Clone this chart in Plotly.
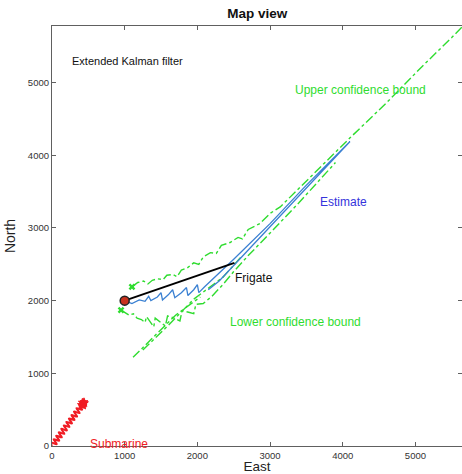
import plotly.graph_objects as go

# ---- data (East, North in metres) ----
sub_east = [0, -8, 65, 22, 100, 57, 135, 92, 170, 127, 205, 162, 240, 197, 275,
            232, 310, 267, 345, 302, 380, 337, 415, 372, 420]
sub_north = [0, 44, 26, 93, 73, 141, 120, 188, 168, 236, 215, 283, 263, 331, 310,
             378, 358, 426, 405, 473, 453, 521, 500, 568, 570]
sub_end_east = [405, 432, 418, 446, 428, 440]
sub_end_north = [565, 578, 598, 590, 556, 605]

frigate_east = [1000, 2510]
frigate_north = [2000, 2520]

est_east = [1000, 1100, 1200, 1280, 1330, 1360, 1450, 1500, 1520, 1600, 1660, 1690,
            1780, 1850, 1870, 1950, 2000, 2020, 2100, 2500, 3000, 3500, 4100,
            3700, 3200, 2700, 2300, 2150]
est_north = [2000, 1960, 2010, 1990, 2060, 2000, 2050, 2110, 2010, 2080, 2150, 2040,
             2110, 2180, 2070, 2150, 2220, 2110, 2190, 2570, 3060, 3590, 4190,
             3760, 3230, 2700, 2270, 2150]

upper_east = [1100, 1180, 1260, 1320, 1380, 1450, 1530, 1580, 1660, 1720, 1780, 1860,
              1950, 2020, 2080, 2180, 2260, 2330, 2450, 2560, 2620, 2700, 2860, 3000,
              3140, 3600, 4100, 4600, 5100, 5500, 5800]
upper_north = [2190, 2250, 2270, 2230, 2280, 2300, 2290, 2350, 2360, 2330, 2420, 2450,
               2520, 2500, 2600, 2660, 2650, 2760, 2800, 2870, 2850, 2980, 3060, 3200,
               3290, 3750, 4240, 4720, 5230, 5620, 5930]

lower_east = [950, 1000, 1060, 1120, 1170, 1230, 1280, 1300, 1360, 1400, 1420, 1500,
              1560, 1590, 1680, 1760, 1790, 1880, 1950, 1980, 2080, 2200, 2350, 2500,
              2700, 3000, 3400, 3900, None,
              1115, 1400, 1700, 2040, None,
              1250, 1600, 1950, 2350, 2600]
lower_north = [1870, 1840, 1800, 1820, 1760, 1740, 1700, 1780, 1690, 1640, 1760, 1700,
               1650, 1790, 1760, 1720, 1860, 1840, 1820, 1950, 1960, 2060, 2220, 2400,
               2620, 2930, 3350, 3900, None,
               1220, 1500, 1800, 2050, None,
               1320, 1660, 2020, 2320, 2600]

bound_start_east = [1100, 950]
bound_start_north = [2190, 1870]

FONT = "Liberation Sans, Arial, sans-serif"
GREEN = "#2fdc2f"
BLUE = "#3a80d2"
RED = "#f01c24"

fig = go.Figure()

fig.add_trace(go.Scatter(x=upper_east, y=upper_north, mode="lines",
                         line=dict(color=GREEN, width=1.4, dash="dashdot"),
                         connectgaps=False, hoverinfo="skip"))
fig.add_trace(go.Scatter(x=lower_east, y=lower_north, mode="lines",
                         line=dict(color=GREEN, width=1.4, dash="dashdot"),
                         connectgaps=False, hoverinfo="skip"))
fig.add_trace(go.Scatter(x=bound_start_east, y=bound_start_north, mode="markers",
                         marker=dict(symbol="x", size=6, color=GREEN,
                                     line=dict(width=0)),
                         hoverinfo="skip"))
fig.add_trace(go.Scatter(x=est_east, y=est_north, mode="lines",
                         line=dict(color=BLUE, width=1.3), hoverinfo="skip"))
fig.add_trace(go.Scatter(x=frigate_east, y=frigate_north, mode="lines",
                         line=dict(color="black", width=2), hoverinfo="skip"))
fig.add_trace(go.Scatter(x=frigate_east[:1], y=frigate_north[:1], mode="markers",
                         marker=dict(symbol="circle", size=9, color="#c8321e",
                                     line=dict(color="#222", width=1.5)),
                         hoverinfo="skip"))
fig.add_trace(go.Scatter(x=sub_east, y=sub_north, mode="lines",
                         line=dict(color=RED, width=2, shape="spline", smoothing=1.3),
                         hoverinfo="skip"))
fig.add_trace(go.Scatter(x=sub_end_east, y=sub_end_north, mode="markers",
                         marker=dict(symbol="star", size=6, color=RED,
                                     line=dict(color=RED, width=1)),
                         hoverinfo="skip"))

labels = [
    ("Extended Kalman filter", 252, 5293, "#111", 11),
    ("Upper confidence bound", 3322, 4894, GREEN, 12),
    ("Estimate", 3665, 3353, "#3434dc", 12),
    ("Frigate", 2495, 2307, "#111", 12),
    ("Lower confidence bound", 2426, 1702, GREEN, 12),
    ("Submarine", 500, 25, RED, 12),
]
for text, ex, ny, col, size in labels:
    fig.add_annotation(x=ex, y=ny, xref="x", yref="y", text=text, showarrow=False,
                       xanchor="left", yanchor="middle",
                       font=dict(family=FONT, size=size, color=col))

axis_common = dict(showgrid=False, zeroline=False, showline=True, linecolor="#606060",
                   linewidth=1.2, mirror="ticks", ticks="inside", ticklen=4,
                   tickcolor="#606060", tickfont=dict(family=FONT, size=9.5, color="#333"))

fig.update_layout(
    width=462, height=474,
    margin=dict(l=52, r=0, t=26, b=28),
    paper_bgcolor="white", plot_bgcolor="white",
    showlegend=False,
    title=dict(text="<b>Map view</b>", x=0.557, xanchor="center", y=0.972, yanchor="middle",
               font=dict(family=FONT, size=13.5, color="#111")),
    xaxis=dict(range=[0, 5641], tickvals=[0, 1000, 2000, 3000, 4000, 5000],
               title=dict(text="East", standoff=5, font=dict(family=FONT, size=13.5, color="#222")),
               **axis_common),
    yaxis=dict(range=[0, 5779], tickvals=[0, 1000, 2000, 3000, 4000, 5000],
               title=dict(text="North", standoff=8, font=dict(family=FONT, size=14, color="#222")),
               **axis_common),
)

fig.write_html("out.html")
